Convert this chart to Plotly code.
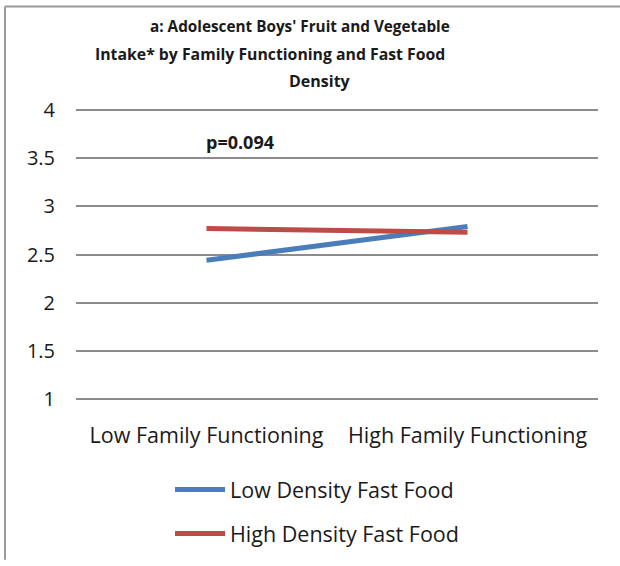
import plotly.graph_objects as go

categories = ["Low Family Functioning", "High Family Functioning"]
low_density = [2.44, 2.79]
high_density = [2.77, 2.73]
series_names = ["Low Density Fast Food", "High Density Fast Food"]
y_ticks = [1, 1.5, 2, 2.5, 3, 3.5, 4]
y_tick_labels = ["1", "1.5", "2", "2.5", "3", "3.5", "4"]

FONT = "Open Sans, Lato, sans-serif"

W, H = 620, 566
L, R, T, B = 76, 22, 108, 161
PW, PH = W - L - R, H - T - B


def px(x):
    return (x - L) / PW


def py(y):
    return (H - B - y) / PH


fig = go.Figure()
fig.add_trace(go.Scatter(x=categories, y=low_density, mode="lines", name=series_names[0],
                         line=dict(color="#4A7EBB", width=5), legendgroup="a"))
fig.add_trace(go.Scatter(x=categories, y=high_density, mode="lines", name=series_names[1],
                         line=dict(color="#BE4B48", width=5), legendgroup="b"))

fig.update_layout(
    width=W, height=H,
    margin=dict(l=L, r=R, t=T, b=B),
    paper_bgcolor="white", plot_bgcolor="white",
    font=dict(family=FONT, color="#1a1a1a", size=20),
    showlegend=True,
    legend=dict(x=px(170), y=py(474), xanchor="left", yanchor="top",
                font=dict(size=21.5), tracegroupgap=13, itemwidth=50,
                bgcolor="rgba(0,0,0,0)"),
    xaxis=dict(type="category", range=[-0.5, 1.5], showgrid=False, zeroline=False,
               showline=False, ticks="", ticklabelstandoff=19,
               tickfont=dict(size=21.5)),
    yaxis=dict(range=[0.98, 4.02], tickvals=y_ticks, ticktext=y_tick_labels,
               showgrid=True, gridcolor="#8c8c8c", gridwidth=1.5, zeroline=False,
               showline=False, ticks="", ticklabelstandoff=20,
               tickfont=dict(size=20)),
    shapes=[
        dict(type="line", xref="paper", yref="paper",
             x0=px(5), x1=px(620), y0=py(5), y1=py(5),
             line=dict(color="#9a9a9a", width=2)),
        dict(type="line", xref="paper", yref="paper",
             x0=px(5), x1=px(5), y0=py(5), y1=py(566),
             line=dict(color="#9a9a9a", width=2)),
    ],
    annotations=[
        dict(text="<b>a: Adolescent Boys' Fruit and Vegetable</b>", xref="paper", yref="paper",
             x=px(300), y=py(25), xanchor="center", yanchor="middle",
             showarrow=False, font=dict(size=15.3)),
        dict(text="<b>Intake* by Family Functioning and Fast Food</b>", xref="paper", yref="paper",
             x=px(270), y=py(53), xanchor="center", yanchor="middle",
             showarrow=False, font=dict(size=15.8)),
        dict(text="<b>Density</b>", xref="paper", yref="paper",
             x=px(320), y=py(81), xanchor="center", yanchor="middle",
             showarrow=False, font=dict(size=16)),
        dict(text="<b>p=0.094</b>", xref="paper", yref="paper",
             x=px(204), y=py(142), xanchor="left", yanchor="middle",
             showarrow=False, font=dict(size=18)),
    ],
)

fig.write_html("out.html", config={"displayModeBar": False},
               post_script="document.body.style.margin='0';")
